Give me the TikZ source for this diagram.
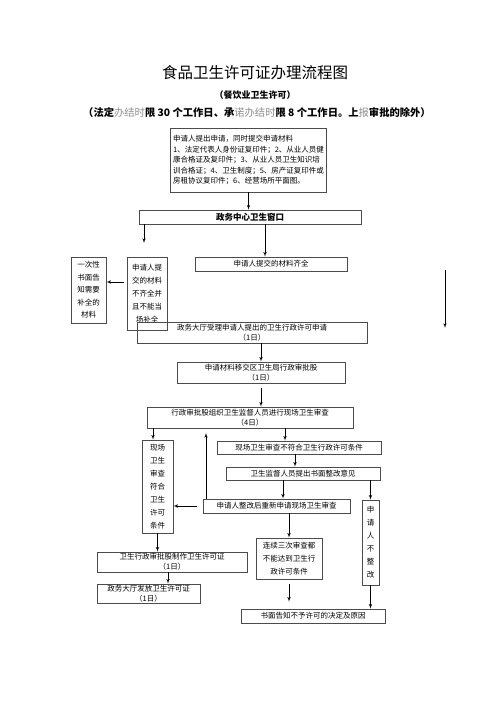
\documentclass[tikz,border=0pt]{standalone}
\usepackage{fontspec}
\setmainfont{Noto Sans CJK SC}
\usetikzlibrary{arrows}
\newcommand{\faint}[1]{\textcolor{black!45}{\mdseries #1}}

\begin{document}
\begin{tikzpicture}[x=1pt,y=-1pt]

\tikzset{box/.style = {draw=black!70, line width=0.6pt, inner sep=1pt, align=center, font=\fontsize{7.5}{10}\selectfont}}
\tikzset{tall/.style = {box, font=\fontsize{7.5}{13}\selectfont}}
\tikzset{edge/.style = {->,> = latex', line width=0.6pt}}
\useasboundingbox (0,0) rectangle (500,708);
%titles
\node (title) at (255,73) {\fontsize{15.5}{15.5}\selectfont 食品卫生许可证办理流程图};
\node (sub) at (255,95) {\fontsize{9}{9}\selectfont\bfseries （餐饮业卫生许可）};
\node (limit) at (257,113) {\fontsize{10.3}{10.3}\selectfont\bfseries （法定\faint{办结时}限 30 个工作日、承\faint{诺办结时}限 8 个工作日。上\faint{报}审批的除外）};
%boxes
\node[box, align=left, inner sep=2.5pt, font=\fontsize{7.5}{10.5}\selectfont, minimum width=153pt, minimum height=64pt] (mat) at (248.5,160) {申请人提出申请，同时提交申请材料\\1、法定代表人身份证复印件；2、从业人员健\\康合格证及复印件；3、从业人员卫生知识培\\训合格证；4、卫生制度；5、房产证复印件或\\房租协议复印件；6、经营场所平面图。};
\node[box, font=\fontsize{8.5}{8.5}\selectfont\bfseries, minimum width=222pt, minimum height=14pt] (win) at (250,217) {政务中心卫生窗口};
\node[tall, minimum width=40pt, minimum height=73pt] (lack) at (147,293.5) {申请人提\\交的材料\\不齐全并\\且不能当\\场补全};
\node[tall, font=\fontsize{7.5}{12.5}\selectfont, minimum width=35pt, minimum height=66pt] (tell) at (88.5,290) {一次性\\书面告\\知需要\\补全的\\材料};
\node[box, minimum width=152pt, minimum height=14pt] (full) at (271,264) {申请人提交的材料齐全};
\node[box, minimum width=230pt, minimum height=21pt] (accept) at (252,332.5) {政务大厅受理申请人提出的卫生行政许可申请\\（1日）};
\node[box, minimum width=168pt, minimum height=21pt] (transfer) at (261,372.5) {申请材料移交区卫生局行政审批股\\（1日）};
\node[box, minimum width=206pt, minimum height=21pt] (inspect) at (250,417.5) {行政审批股组织卫生监督人员进行现场卫生审查\\（4日）};
\node[tall, minimum width=31pt, minimum height=93pt] (pass) at (157.5,486.5) {现场\\卫生\\审查\\符合\\卫生\\许可\\条件};
\node[box, minimum width=164pt, minimum height=13pt] (fail) at (299,447.5) {现场卫生审查不符合卫生行政许可条件};
\node[box, minimum width=154pt, minimum height=13pt] (advice) at (303,473.5) {卫生监督人员提出书面整改意见};
\node[box, minimum width=147pt, minimum height=14pt] (redo) at (276.5,506) {申请人整改后重新申请现场卫生审查};
\node[tall, minimum width=17pt, minimum height=85pt] (noredo) at (370.5,542.5) {申\\请\\人\\不\\整\\改};
\node[tall, minimum width=66pt, minimum height=41pt] (thrice) at (289,558.5) {连续三次审查都\\不能达到卫生行\\政许可条件};
\node[box, minimum width=150pt, minimum height=20pt] (make) at (172,562) {卫生行政审批股制作卫生许可证\\（1日）};
\node[box, minimum width=103pt, minimum height=19pt] (issue) at (148.5,593.5) {政务大厅发放卫生许可证\\（1日）};
\node[box, minimum width=144pt, minimum height=14pt] (refuse) at (313,616) {书面告知不予许可的决定及原因};
%arrow columns
\coordinate (lackin) at (144,243);
\coordinate (k1) at (265,0);
\coordinate (k2) at (0,282);
\coordinate (k3) at (153,0);
\coordinate (k4) at (285,0);
\coordinate (k5) at (295,0);
\coordinate (k6) at (283,0);
\coordinate (k7) at (168,0);
\coordinate (redoup) at (206,433);
\coordinate (s1) at (445,270);
\coordinate (s2) at (445,328);
%arrows
\draw [edge] (mat.south) -- (mat.south |- win.north);
\draw [edge] (win.south -| lackin) -- (lackin);
\draw [edge] (win.south -| k1) -- (full.north -| k1);
\draw [edge, shorten <=3pt] (lack.west |- k2) -- (tell.east |- k2);
\draw [edge] (s1) -- (s2);
\draw [edge] (accept.south -| transfer.north) -- (transfer.north);
\draw [edge, shorten <=5pt] (transfer.south) -- (transfer.south |- inspect.north);
\draw [edge] (inspect.south -| k3) -- (pass.north -| k3);
\draw [edge] (inspect.south -| k4) -- (fail.north -| k4);
\draw [edge] (redo.north -| redoup) -- (redoup);
\draw [edge] (fail.south -| k5) -- (advice.north -| k5);
\draw [edge] (advice.south -| k6) -- (redo.north -| k6);
\draw [edge] (advice.south -| noredo.north) -- (noredo.north);
\draw [edge, shorten <=6pt] (redo.west) -- (redo.west -| pass.east);
\draw [edge] (redo.south -| thrice.north) -- (thrice.north);
\draw [edge, shorten <=5pt, shorten >=7pt] (thrice.south) -- (thrice.south |- refuse.north);
\draw [edge] (noredo.south) -- (noredo.south |- refuse.north);
\draw [edge] (pass.south) -- (pass.south |- make.north);
\draw [edge] (make.south -| k7) -- (issue.north -| k7);

\end{tikzpicture}
\end{document}
